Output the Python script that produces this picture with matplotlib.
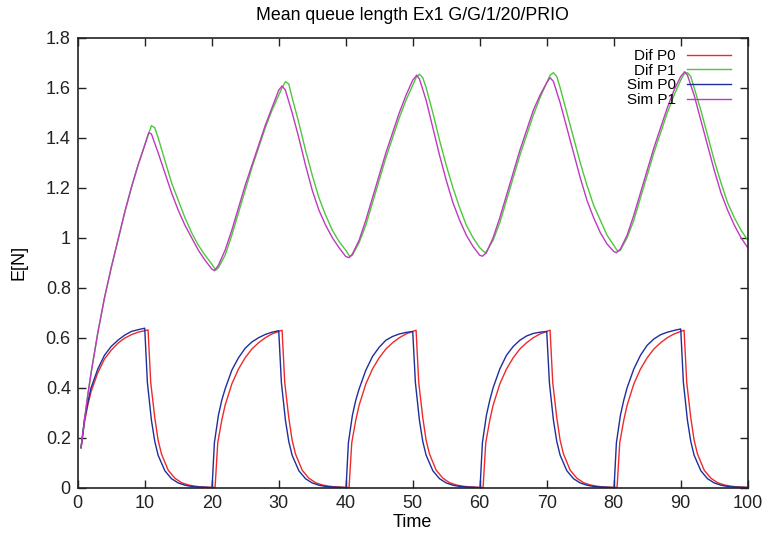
import matplotlib
matplotlib.use("Agg")
import matplotlib.pyplot as plt

plt.rcParams["font.family"] = ["Liberation Sans", "DejaVu Sans"]

TITLE = "Mean queue length Ex1 G/G/1/20/PRIO"

# Dif P0 (red)
t_dif_p0 = [0.5, 1, 1.5, 2, 3, 4, 5, 6, 7, 8, 9, 10, 10.5, 10.9, 11.5, 12, 12.5, 13.5, 14.5, 15.5, 16.5, 17.5, 18.5, 19.5, 20.5,
            20.9, 21.5, 22, 23, 24, 25, 26, 27, 28, 29, 30, 30.5, 30.9, 31.5, 32, 32.5, 33.5, 34.5, 35.5, 36.5, 37.5, 38.5, 39.5, 40.5,
            40.9, 41.5, 42, 43, 44, 45, 46, 47, 48, 49, 50, 50.5, 50.9, 51.5, 52, 52.5, 53.5, 54.5, 55.5, 56.5, 57.5, 58.5, 59.5, 60.5,
            60.9, 61.5, 62, 63, 64, 65, 66, 67, 68, 69, 70, 70.5, 70.9, 71.5, 72, 72.5, 73.5, 74.5, 75.5, 76.5, 77.5, 78.5, 79.5, 80.5,
            80.9, 81.5, 82, 83, 84, 85, 86, 87, 88, 89, 90, 90.5, 90.9, 91.5, 92, 92.5, 93.5, 94.5, 95.5, 96.5, 97.5, 98.5, 99.5, 100]
v_dif_p0 = [0.16, 0.26, 0.33, 0.385, 0.46, 0.515, 0.55, 0.578, 0.598, 0.612, 0.622, 0.628, 0.631, 0.42, 0.28, 0.19, 0.135, 0.07, 0.038, 0.02, 0.011, 0.006, 0.003, 0.002, 0.001,
            0.18, 0.27, 0.33, 0.415, 0.475, 0.52, 0.555, 0.58, 0.60, 0.615, 0.625, 0.63, 0.42, 0.28, 0.19, 0.135, 0.07, 0.038, 0.02, 0.011, 0.006, 0.003, 0.002, 0.001,
            0.18, 0.27, 0.33, 0.415, 0.475, 0.52, 0.555, 0.58, 0.60, 0.615, 0.625, 0.63, 0.42, 0.28, 0.19, 0.135, 0.07, 0.038, 0.02, 0.011, 0.006, 0.003, 0.002, 0.001,
            0.18, 0.27, 0.33, 0.415, 0.475, 0.52, 0.555, 0.58, 0.60, 0.615, 0.625, 0.63, 0.42, 0.28, 0.19, 0.135, 0.07, 0.038, 0.02, 0.011, 0.006, 0.003, 0.002, 0.001,
            0.18, 0.27, 0.33, 0.415, 0.475, 0.52, 0.555, 0.58, 0.60, 0.615, 0.625, 0.63, 0.42, 0.28, 0.19, 0.135, 0.07, 0.038, 0.02, 0.011, 0.006, 0.003, 0.002, 0.001]

# Sim P0 (blue)
t_sim_p0 = [0.5, 1, 1.5, 2, 3, 4, 5, 6, 7, 8, 9, 10, 10.4, 11, 11.5, 12, 13, 14, 15, 16, 17, 18, 19, 20.05,
            20.4, 21, 21.5, 22, 23, 24, 25, 26, 27, 28, 29, 30, 30.4, 31, 31.5, 32, 33, 34, 35, 36, 37, 38, 39, 40.05,
            40.4, 41, 41.5, 42, 43, 44, 45, 46, 47, 48, 49, 50, 50.4, 51, 51.5, 52, 53, 54, 55, 56, 57, 58, 59, 60.05,
            60.4, 61, 61.5, 62, 63, 64, 65, 66, 67, 68, 69, 70, 70.4, 71, 71.5, 72, 73, 74, 75, 76, 77, 78, 79, 80.05,
            80.4, 81, 81.5, 82, 83, 84, 85, 86, 87, 88, 89, 90, 90.4, 91, 91.5, 92, 93, 94, 95, 96, 97, 98, 99, 100]
v_sim_p0 = [0.16, 0.27, 0.34, 0.40, 0.475, 0.53, 0.565, 0.59, 0.61, 0.625, 0.632, 0.638, 0.42, 0.27, 0.185, 0.13, 0.068, 0.036, 0.019, 0.01, 0.005, 0.003, 0.002, 0.0,
            0.18, 0.29, 0.35, 0.395, 0.47, 0.52, 0.558, 0.583, 0.60, 0.613, 0.622, 0.628, 0.42, 0.27, 0.185, 0.13, 0.068, 0.036, 0.019, 0.01, 0.005, 0.003, 0.002, 0.0,
            0.18, 0.29, 0.35, 0.395, 0.47, 0.525, 0.562, 0.59, 0.605, 0.615, 0.621, 0.625, 0.42, 0.27, 0.185, 0.13, 0.068, 0.036, 0.019, 0.01, 0.005, 0.003, 0.002, 0.0,
            0.18, 0.29, 0.35, 0.40, 0.475, 0.53, 0.565, 0.59, 0.607, 0.617, 0.622, 0.625, 0.42, 0.27, 0.185, 0.13, 0.068, 0.036, 0.019, 0.01, 0.005, 0.003, 0.002, 0.0,
            0.18, 0.29, 0.35, 0.40, 0.475, 0.53, 0.57, 0.595, 0.612, 0.622, 0.629, 0.635, 0.42, 0.27, 0.185, 0.13, 0.068, 0.036, 0.019, 0.01, 0.005, 0.003, 0.002, 0.001]

# Dif P1 (green)
t_dif_p1 = [0.5, 1, 1.5, 2, 2.5, 3, 4, 5, 6, 7, 8, 9, 10, 10.5, 11, 11.5, 12, 13, 14, 15, 16, 17, 18, 19, 20, 20.6,
            21, 22, 23, 24, 25, 26, 27, 28, 29, 30, 30.5, 31, 31.5, 32, 33, 34, 35, 36, 37, 38, 39, 40, 40.6,
            41, 42, 43, 44, 45, 46, 47, 48, 49, 50, 50.5, 51, 51.5, 52, 53, 54, 55, 56, 57, 58, 59, 60, 60.8,
            61, 62, 63, 64, 65, 66, 67, 68, 69, 70, 70.5, 71, 71.5, 72, 73, 74, 75, 76, 77, 78, 79, 80, 80.6,
            81, 82, 83, 84, 85, 86, 87, 88, 89, 90, 90.5, 91, 91.5, 92, 93, 94, 95, 96, 97, 98, 99, 100]
v_dif_p1 = [0.16, 0.27, 0.37, 0.46, 0.54, 0.62, 0.76, 0.88, 0.99, 1.10, 1.20, 1.29, 1.37, 1.41, 1.448, 1.44, 1.40, 1.31, 1.22, 1.15, 1.08, 1.02, 0.97, 0.93, 0.895, 0.87,
            0.88, 0.93, 1.01, 1.10, 1.19, 1.28, 1.36, 1.44, 1.51, 1.57, 1.60, 1.624, 1.615, 1.56, 1.46, 1.35, 1.25, 1.16, 1.09, 1.03, 0.985, 0.95, 0.925,
            0.93, 0.98, 1.05, 1.14, 1.23, 1.32, 1.40, 1.48, 1.55, 1.61, 1.64, 1.654, 1.64, 1.60, 1.50, 1.39, 1.29, 1.20, 1.12, 1.05, 1.00, 0.96, 0.94,
            0.945, 0.99, 1.06, 1.15, 1.24, 1.33, 1.41, 1.49, 1.56, 1.62, 1.65, 1.66, 1.645, 1.60, 1.50, 1.40, 1.30, 1.21, 1.13, 1.07, 1.01, 0.97, 0.945,
            0.95, 1.00, 1.07, 1.16, 1.25, 1.34, 1.42, 1.50, 1.57, 1.63, 1.655, 1.66, 1.645, 1.60, 1.51, 1.41, 1.31, 1.22, 1.14, 1.08, 1.03, 0.99]

# Sim P1 (magenta)
t_sim_p1 = [0.5, 1, 1.5, 2, 2.5, 3, 4, 5, 6, 7, 8, 9, 10, 10.6, 11, 12, 13, 14, 15, 16, 17, 18, 19, 20, 20.4,
            21, 22, 23, 24, 25, 26, 27, 28, 29, 30, 30.5, 31, 32, 33, 34, 35, 36, 37, 38, 39, 40, 40.5,
            41, 42, 43, 44, 45, 46, 47, 48, 49, 50, 50.6, 51, 52, 53, 54, 55, 56, 57, 58, 59, 60, 60.4,
            61, 62, 63, 64, 65, 66, 67, 68, 69, 70, 70.5, 71, 72, 73, 74, 75, 76, 77, 78, 79, 80, 80.4,
            81, 82, 83, 84, 85, 86, 87, 88, 89, 90, 90.6, 91, 92, 93, 94, 95, 96, 97, 98, 99, 100]
v_sim_p1 = [0.16, 0.27, 0.37, 0.46, 0.54, 0.62, 0.76, 0.88, 0.99, 1.10, 1.20, 1.29, 1.37, 1.42, 1.415, 1.34, 1.26, 1.18, 1.11, 1.05, 1.00, 0.95, 0.91, 0.875, 0.868,
            0.89, 0.95, 1.03, 1.12, 1.21, 1.29, 1.37, 1.45, 1.52, 1.59, 1.607, 1.59, 1.50, 1.40, 1.29, 1.19, 1.11, 1.05, 1.00, 0.96, 0.925, 0.92,
            0.935, 0.99, 1.07, 1.16, 1.25, 1.34, 1.42, 1.50, 1.57, 1.63, 1.65, 1.635, 1.55, 1.44, 1.33, 1.23, 1.14, 1.07, 1.01, 0.965, 0.93, 0.926,
            0.94, 1.00, 1.08, 1.17, 1.26, 1.35, 1.43, 1.51, 1.57, 1.62, 1.64, 1.625, 1.54, 1.44, 1.34, 1.24, 1.15, 1.08, 1.02, 0.975, 0.945, 0.94,
            0.955, 1.01, 1.09, 1.18, 1.27, 1.36, 1.44, 1.52, 1.59, 1.645, 1.664, 1.65, 1.57, 1.47, 1.37, 1.27, 1.18, 1.11, 1.05, 1.00, 0.96]

x_ticks = [0, 10, 20, 30, 40, 50, 60, 70, 80, 90, 100]
y_ticks = [0, 0.2, 0.4, 0.6, 0.8, 1, 1.2, 1.4, 1.6, 1.8]
y_tick_labels = ["0", "0.2", "0.4", "0.6", "0.8", "1", "1.2", "1.4", "1.6", "1.8"]


def main():
    fig = plt.figure(figsize=(7.68, 5.37), dpi=100)
    ax = fig.add_axes([0.1012, 0.0918, 0.8724, 0.838])

    ax.plot(t_dif_p0, v_dif_p0, color="#ee2a2a", lw=1.0, label="Dif P0")
    ax.plot(t_dif_p1, v_dif_p1, color="#4cc83a", lw=1.0, label="Dif P1")
    ax.plot(t_sim_p0, v_sim_p0, color="#1e2e9c", lw=1.0, label="Sim P0")
    ax.plot(t_sim_p1, v_sim_p1, color="#c038c0", lw=1.0, label="Sim P1")

    ax.set_xlim(0, 100)
    ax.set_ylim(0, 1.8)
    ax.set_xticks(x_ticks)
    ax.set_yticks(y_ticks)
    ax.set_yticklabels(y_tick_labels)
    ax.tick_params(direction="in", length=6, width=1, top=True, right=True,
                   labelsize=13, pad=5, colors="#222222")
    for s in ax.spines.values():
        s.set_linewidth(1.2)
        s.set_color("#222222")

    ax.set_title(TITLE, fontsize=12.8, pad=13)
    ax.set_xlabel("Time", fontsize=13, labelpad=2)
    ax.set_ylabel("E[N]", fontsize=13, labelpad=13)

    ax.legend(loc="upper right", bbox_to_anchor=(0.975, 0.975), frameon=False,
              markerfirst=False, fontsize=11, handlelength=2.9, handletextpad=0.7,
              labelspacing=0.05, borderpad=0, borderaxespad=0)

    fig.savefig("out.png", dpi=100)


if __name__ == "__main__":
    main()
